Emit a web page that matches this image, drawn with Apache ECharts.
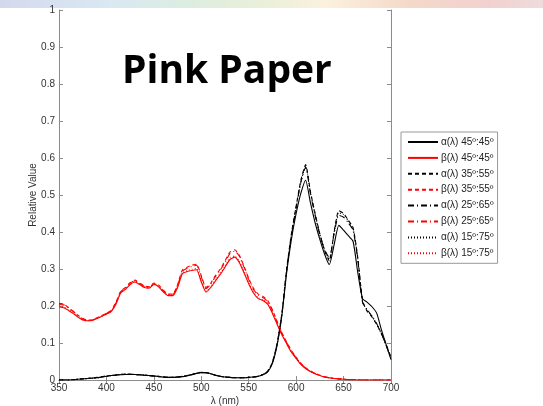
<!DOCTYPE html>
<html>
<head>
<meta charset="utf-8">
<script src="https://cdn.jsdelivr.net/npm/echarts@6/dist/echarts.min.js"></script>
<style>
  html, body { margin: 0; padding: 0; background: #fff; }
  #chart { width: 543px; height: 406px; }
</style>
</head>
<body>
<div id="chart"></div>
<script>
// wavelength grid (nm)
const wavelengths = [
  350, 355, 360, 365, 370, 375, 380, 385, 390, 395, 400,
  405, 410, 415, 420, 425, 430, 435, 440, 445, 450,
  455, 460, 465, 470, 475, 480, 485, 490, 495, 500,
  505, 510, 515, 520, 525, 530, 535, 540, 545, 550,
  555, 560, 565, 570, 575, 580, 585, 590, 595, 600,
  605, 610, 615, 620, 625, 630, 635, 640, 645, 650,
  655, 660, 665, 670, 675, 680, 685, 690, 695, 700
];

const alpha45 = [
  0, 0, 0, 0.001, 0.002, 0.003, 0.004, 0.005, 0.006, 0.008, 0.010,
  0.012, 0.013, 0.014, 0.015, 0.015, 0.015, 0.014, 0.013, 0.012, 0.011,
  0.009, 0.008, 0.007, 0.007, 0.008, 0.009, 0.011, 0.014, 0.018, 0.020,
  0.020, 0.017, 0.013, 0.010, 0.008, 0.007, 0.006, 0.006, 0.006, 0.007,
  0.008, 0.010, 0.014, 0.022, 0.045, 0.095, 0.175, 0.290, 0.380, 0.450,
  0.505, 0.540, 0.480, 0.425, 0.380, 0.340, 0.312, 0.365, 0.418, 0.405,
  0.390, 0.375, 0.290, 0.220, 0.210, 0.198, 0.180, 0.135, 0.095, 0.055
];
const alpha35 = [
  0, 0, 0, 0.001, 0.002, 0.003, 0.004, 0.005, 0.007, 0.009, 0.011,
  0.012, 0.014, 0.015, 0.016, 0.016, 0.015, 0.014, 0.013, 0.012, 0.011,
  0.010, 0.008, 0.007, 0.007, 0.008, 0.010, 0.012, 0.015, 0.018, 0.021,
  0.020, 0.017, 0.013, 0.010, 0.008, 0.007, 0.006, 0.006, 0.006, 0.007,
  0.008, 0.010, 0.015, 0.024, 0.048, 0.100, 0.180, 0.300, 0.395, 0.470,
  0.540, 0.582, 0.510, 0.450, 0.395, 0.350, 0.322, 0.400, 0.458, 0.450,
  0.432, 0.412, 0.330, 0.215, 0.185, 0.170, 0.150, 0.125, 0.095, 0.062
];
const alpha25 = [
  0, 0, 0, 0.001, 0.002, 0.003, 0.004, 0.005, 0.006, 0.008, 0.010,
  0.012, 0.013, 0.015, 0.015, 0.016, 0.015, 0.014, 0.013, 0.012, 0.011,
  0.009, 0.008, 0.007, 0.007, 0.008, 0.009, 0.012, 0.015, 0.018, 0.020,
  0.020, 0.017, 0.013, 0.010, 0.008, 0.007, 0.006, 0.006, 0.006, 0.007,
  0.008, 0.010, 0.015, 0.023, 0.047, 0.098, 0.178, 0.296, 0.390, 0.465,
  0.535, 0.575, 0.505, 0.445, 0.392, 0.352, 0.330, 0.395, 0.445, 0.440,
  0.425, 0.405, 0.325, 0.210, 0.190, 0.172, 0.152, 0.125, 0.093, 0.060
];
const alpha15 = [
  0, 0, 0, 0.001, 0.002, 0.003, 0.004, 0.005, 0.006, 0.009, 0.010,
  0.012, 0.014, 0.015, 0.016, 0.015, 0.015, 0.014, 0.013, 0.012, 0.011,
  0.010, 0.008, 0.007, 0.007, 0.008, 0.010, 0.012, 0.014, 0.018, 0.021,
  0.020, 0.017, 0.013, 0.010, 0.008, 0.007, 0.006, 0.006, 0.006, 0.007,
  0.008, 0.010, 0.015, 0.023, 0.048, 0.099, 0.179, 0.298, 0.392, 0.468,
  0.535, 0.578, 0.508, 0.448, 0.394, 0.351, 0.326, 0.398, 0.452, 0.447,
  0.430, 0.410, 0.328, 0.212, 0.188, 0.172, 0.150, 0.123, 0.092, 0.058
];

const beta45 = [
  0.198, 0.195, 0.188, 0.180, 0.170, 0.162, 0.160, 0.161, 0.166, 0.172, 0.178,
  0.185, 0.205, 0.235, 0.245, 0.258, 0.265, 0.258, 0.250, 0.248, 0.258,
  0.252, 0.238, 0.228, 0.228, 0.250, 0.287, 0.293, 0.296, 0.298, 0.265,
  0.238, 0.250, 0.268, 0.285, 0.305, 0.325, 0.332, 0.318, 0.290, 0.260,
  0.235, 0.220, 0.215, 0.205, 0.180, 0.150, 0.122, 0.098, 0.075, 0.058,
  0.042, 0.031, 0.023, 0.017, 0.012, 0.008, 0.006, 0.004, 0.003, 0.002,
  0.001, 0.001, 0, 0, 0, 0, 0, 0, 0, 0
];
const beta35 = [
  0.207, 0.205, 0.196, 0.186, 0.175, 0.166, 0.162, 0.163, 0.168, 0.174, 0.180,
  0.188, 0.210, 0.240, 0.250, 0.263, 0.270, 0.262, 0.254, 0.252, 0.262,
  0.257, 0.243, 0.232, 0.232, 0.258, 0.297, 0.305, 0.310, 0.313, 0.282,
  0.250, 0.262, 0.283, 0.300, 0.322, 0.345, 0.352, 0.338, 0.308, 0.275,
  0.248, 0.232, 0.226, 0.215, 0.190, 0.158, 0.128, 0.103, 0.080, 0.062,
  0.045, 0.033, 0.025, 0.018, 0.013, 0.009, 0.006, 0.004, 0.003, 0.002,
  0.001, 0.001, 0.001, 0, 0, 0, 0, 0, 0, 0
];
const beta25 = [
  0.204, 0.203, 0.195, 0.185, 0.174, 0.165, 0.161, 0.162, 0.167, 0.173, 0.180,
  0.187, 0.208, 0.238, 0.249, 0.262, 0.268, 0.261, 0.253, 0.251, 0.260,
  0.255, 0.241, 0.231, 0.231, 0.256, 0.294, 0.302, 0.307, 0.310, 0.279,
  0.247, 0.259, 0.280, 0.297, 0.318, 0.341, 0.348, 0.335, 0.305, 0.272,
  0.245, 0.229, 0.223, 0.212, 0.187, 0.156, 0.126, 0.101, 0.078, 0.060,
  0.044, 0.032, 0.024, 0.017, 0.012, 0.008, 0.006, 0.004, 0.003, 0.002,
  0.001, 0.001, 0, 0, 0, 0, 0, 0, 0, 0
];
const beta15 = [
  0.200, 0.197, 0.190, 0.181, 0.171, 0.163, 0.160, 0.161, 0.166, 0.172, 0.179,
  0.186, 0.206, 0.236, 0.246, 0.259, 0.266, 0.259, 0.251, 0.249, 0.259,
  0.253, 0.239, 0.229, 0.229, 0.252, 0.289, 0.295, 0.299, 0.301, 0.268,
  0.238, 0.252, 0.271, 0.288, 0.308, 0.328, 0.335, 0.321, 0.293, 0.263,
  0.237, 0.222, 0.217, 0.207, 0.182, 0.152, 0.123, 0.099, 0.076, 0.059,
  0.043, 0.031, 0.023, 0.017, 0.012, 0.008, 0.006, 0.004, 0.003, 0.002,
  0.001, 0.001, 0, 0, 0, 0, 0, 0, 0, 0
];

const seriesNames = [
  'α(λ) 45º:45º', 'β(λ) 45º:45º',
  'α(λ) 35º:55º', 'β(λ) 35º:55º',
  'α(λ) 25º:65º', 'β(λ) 25º:65º',
  'α(λ) 15º:75º', 'β(λ) 15º:75º'
];
const seriesValues = [alpha45, beta45, alpha35, beta35, alpha25, beta25, alpha15, beta15];
const dashTypes = ['solid', 'solid', [4, 3], [4, 3], [6, 3, 1, 3], [6, 3, 1, 3], [1, 2], [1, 2]];

const chart = echarts.init(document.getElementById('chart'));
const axisGray = '#8c8c8c';
const labelStyle = { color: '#333', fontSize: 10, fontFamily: 'Liberation Sans, Arial, sans-serif' };

chart.setOption({
  animation: false,
  backgroundColor: '#fff',
  grid: { left: 59, top: 10, width: 332, height: 370, outerBoundsMode: 'none', containLabel: false },
  graphic: [
    {
      type: 'rect', left: 0, top: 0, z: -1,
      shape: { width: 543, height: 8 },
      style: {
        fill: new echarts.graphic.LinearGradient(0, 0, 1, 0, [
          { offset: 0, color: '#d3d9ed' },
          { offset: 0.2, color: '#dae8f3' },
          { offset: 0.35, color: '#dcede0' },
          { offset: 0.5, color: '#ecf0d8' },
          { offset: 0.6, color: '#fbf1de' },
          { offset: 0.75, color: '#f5d9c9' },
          { offset: 0.9, color: '#f1d1cf' },
          { offset: 1, color: '#eedcdc' }
        ])
      }
    },
    {
      type: 'text', left: 122, top: 52, z: 10,
      style: {
        text: 'Pink Paper', fill: '#000',
        font: 'bold 39px "Open Sans", sans-serif'
      }
    }
  ],
  legend: {
    orient: 'vertical',
    left: 401, top: 132,
    borderColor: '#999', borderWidth: 1,
    padding: [5, 4, 5, 6],
    itemWidth: 30, itemHeight: 10, itemGap: 5.9,
    itemStyle: { opacity: 0 },
    textStyle: { color: '#222', fontSize: 10, fontFamily: 'Liberation Sans, Arial, sans-serif', padding: [0, 0, 0, -2] },
    data: seriesNames
  },
  xAxis: [
    {
      type: 'value', min: 350, max: 700, interval: 50,
      name: 'λ (nm)', nameLocation: 'middle', nameGap: 16, nameMoveOverlap: false,
      nameTextStyle: labelStyle,
      axisLine: { lineStyle: { color: axisGray } },
      axisTick: { inside: true, length: 4, lineStyle: { color: axisGray } },
      axisLabel: Object.assign({ margin: 3 }, labelStyle),
      splitLine: { show: false }
    },
    {
      type: 'value', min: 350, max: 700, interval: 50, position: 'top',
      axisLine: { lineStyle: { color: axisGray } },
      axisTick: { inside: true, length: 4, lineStyle: { color: axisGray } },
      axisLabel: { show: false },
      splitLine: { show: false }
    }
  ],
  yAxis: [
    {
      type: 'value', min: 0, max: 1, interval: 0.1,
      name: 'Relative Value', nameLocation: 'middle', nameGap: 21, nameMoveOverlap: false,
      nameTextStyle: labelStyle,
      axisLine: { show: true, lineStyle: { color: axisGray } },
      axisTick: { show: true, inside: true, length: 4, lineStyle: { color: axisGray } },
      axisLabel: Object.assign({ margin: 4, formatter: (v) => String(+v.toFixed(1)) }, labelStyle),
      splitLine: { show: false }
    },
    {
      type: 'value', min: 0, max: 1, interval: 0.1, position: 'right',
      axisLine: { show: true, lineStyle: { color: axisGray } },
      axisTick: { show: true, inside: true, length: 4, lineStyle: { color: axisGray } },
      axisLabel: { show: false },
      splitLine: { show: false }
    }
  ],
  series: seriesNames.map((name, i) => ({
    name,
    type: 'line',
    xAxisIndex: 0,
    yAxisIndex: 0,
    data: wavelengths.map((w, j) => [w, seriesValues[i][j]]),
    symbol: 'none',
    smooth: 0.2,
    lineStyle: {
      color: i % 2 === 0 ? '#000' : '#ff0000',
      width: 1.1,
      type: dashTypes[i]
    },
    itemStyle: { color: i % 2 === 0 ? '#000' : '#ff0000' }
  }))
});
</script>
</body>
</html>
